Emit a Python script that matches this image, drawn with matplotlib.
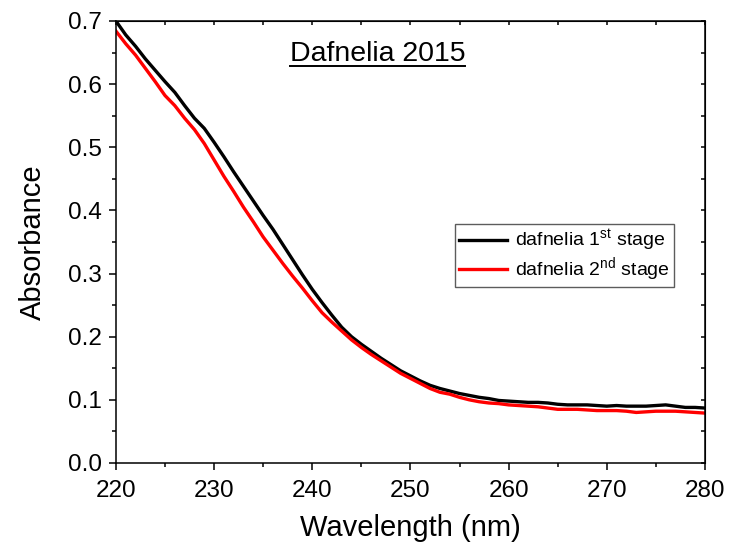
import matplotlib
matplotlib.use("Agg")
import matplotlib.pyplot as plt
from matplotlib.ticker import MultipleLocator, FormatStrFormatter

plt.rcParams["font.family"] = ["Liberation Sans", "DejaVu Sans"]
plt.rcParams["mathtext.fontset"] = "custom"
plt.rcParams["mathtext.rm"] = "Liberation Sans"
plt.rcParams["mathtext.it"] = "Liberation Sans:italic"

# UV absorbance spectra, 1 nm steps
wavelength = list(range(220, 281))
stage1 = [
    0.700, 0.678, 0.660, 0.640, 0.622, 0.604, 0.587, 0.566, 0.546, 0.530,
    0.508, 0.485, 0.461, 0.438, 0.415, 0.392, 0.370, 0.346, 0.322, 0.298,
    0.275, 0.254, 0.234, 0.215, 0.200, 0.188, 0.177, 0.166, 0.156, 0.146,
    0.138, 0.130, 0.123, 0.118, 0.114, 0.110, 0.107, 0.104, 0.102, 0.099,
    0.098, 0.097, 0.096, 0.096, 0.095, 0.093, 0.092, 0.092, 0.092, 0.091,
    0.090, 0.091, 0.090, 0.090, 0.090, 0.091, 0.092, 0.090, 0.088, 0.088,
    0.087,
]
stage2 = [
    0.684, 0.664, 0.646, 0.625, 0.604, 0.582, 0.566, 0.546, 0.528, 0.506,
    0.480, 0.454, 0.430, 0.405, 0.382, 0.358, 0.337, 0.316, 0.296, 0.277,
    0.257, 0.238, 0.223, 0.209, 0.195, 0.183, 0.172, 0.162, 0.152, 0.142,
    0.134, 0.126, 0.118, 0.112, 0.109, 0.104, 0.100, 0.097, 0.095, 0.094,
    0.092, 0.091, 0.090, 0.089, 0.087, 0.085, 0.085, 0.085, 0.084, 0.083,
    0.083, 0.083, 0.082, 0.080, 0.081, 0.082, 0.082, 0.082, 0.081, 0.080,
    0.079,
]
labels = [r"dafnelia 1$^{\rm st}$ stage", r"dafnelia 2$^{\rm nd}$ stage"]
title = "Dafnelia 2015"

fig = plt.figure(figsize=(7.29, 5.57), dpi=100)
ax = fig.add_axes([0.159, 0.1688, 0.808, 0.7935])

ax.plot(wavelength, stage1, color="#000000", lw=2.4, label=labels[0])
ax.plot(wavelength, stage2, color="#ff0000", lw=2.4, label=labels[1])

ax.set_xlim(220, 280)
ax.set_ylim(0.0, 0.7)
ax.xaxis.set_major_locator(MultipleLocator(10))
ax.xaxis.set_minor_locator(MultipleLocator(5))
ax.yaxis.set_major_locator(MultipleLocator(0.1))
ax.yaxis.set_minor_locator(MultipleLocator(0.05))
ax.yaxis.set_major_formatter(FormatStrFormatter("%.1f"))

for s in ax.spines.values():
    s.set_linewidth(1.1)

ax.tick_params(which="both", direction="out", top=False, right=False,
               width=1.1, labelsize=17.5)
ax.tick_params(axis="x", pad=7)
ax.tick_params(axis="y", pad=5)
ax.tick_params(which="major", length=5)
ax.tick_params(which="minor", length=3)

# mirrored inward ticks on the top and right edges
secx = ax.secondary_xaxis("top")
secx.xaxis.set_major_locator(MultipleLocator(10))
secx.xaxis.set_minor_locator(MultipleLocator(5))
secx.tick_params(which="both", direction="in", length=3, width=1.1,
                 labeltop=False)
secy = ax.secondary_yaxis("right")
secy.yaxis.set_major_locator(MultipleLocator(0.1))
secy.yaxis.set_minor_locator(MultipleLocator(0.05))
secy.tick_params(which="both", direction="in", length=3, width=1.1,
                 labelright=False)

ax.set_xlabel("Wavelength (nm)", fontsize=21, labelpad=9)
ax.set_ylabel("Absorbance", fontsize=21, labelpad=15)

leg = ax.legend(loc="upper left", bbox_to_anchor=(0.5756, 0.5407),
                borderaxespad=0, fontsize=14, frameon=True, fancybox=False,
                handlelength=2.5, handletextpad=0.4, borderpad=0.2,
                labelspacing=0.1)
leg.get_frame().set_edgecolor("#333333")
leg.get_frame().set_linewidth(1.0)

# underlined title inside the plot area
t = ax.text(0.444, 0.91, title, transform=ax.transAxes, ha="center",
            va="baseline", fontsize=20.5)
fig.canvas.draw()
bb = t.get_window_extent().transformed(ax.transAxes.inverted())
uy = 0.91 - 0.012
ax.plot([bb.x0, bb.x1], [uy, uy], transform=ax.transAxes, color="black",
        lw=1.4, clip_on=False)

fig.savefig("out.png", dpi=100)
